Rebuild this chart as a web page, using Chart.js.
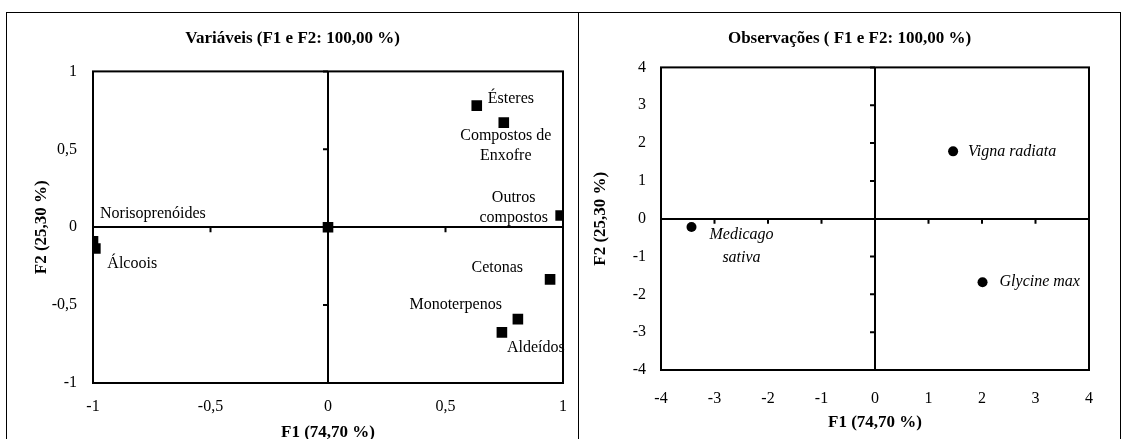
<!DOCTYPE html>
<html>
<head>
<meta charset="utf-8">
<script src="https://cdn.jsdelivr.net/npm/chart.js@4.4.1/dist/chart.umd.min.js"></script>
<style>
  html, body { margin: 0; padding: 0; background: #fff; overflow: hidden; }
  body { width: 1123px; height: 439px; position: relative; }
  .cell { position: absolute; top: 12px; height: 460px; border-top: 1px solid #000; box-sizing: border-box; }
  #cellLeft { left: 6px; width: 573px; border-left: 1px solid #000; border-right: 1px solid #000; }
  #cellRight { left: 578px; width: 543px; border-right: 1px solid #000; }
  canvas { position: absolute; }
  #varChart { left: 7px; top: 13px; }
  #obsChart { left: 579px; top: 13px; }
</style>
</head>
<body>
<div class="cell" id="cellLeft"></div>
<div class="cell" id="cellRight"></div>
<canvas id="varChart" width="571" height="440"></canvas>
<canvas id="obsChart" width="541" height="440"></canvas>
<script>
// Variáveis (loadings F1/F2)
const varNames = ["Ésteres", "Compostos de\nEnxofre", "Outros\ncompostos", "Norisoprenóides", "Álcoois", "", "Cetonas", "Monoterpenos", "Aldeídos"];
const varF1 = [0.633, 0.748, 0.99, -1.0, -0.99, 0, 0.945, 0.808, 0.74];
const varF2 = [0.78, 0.671, 0.075, -0.09, -0.137, 0, -0.335, -0.59, -0.675];
const varTicks = [-1, -0.5, 0, 0.5, 1];

// Observações (scores F1/F2)
const obsNames = ["Medicago\nsativa", "Vigna radiata", "Glycine max"];
const obsF1 = [-3.43, 1.46, 2.01];
const obsF2 = [-0.22, 1.78, -1.68];
const obsTicks = [-4, -3, -2, -1, 0, 1, 2, 3, 4];

// where each label sits relative to its point
const varLabelPos = [
  { dx: 11, dy: -7, align: "left" },
  { dx: 2, dy: 13, align: "center" },
  { dx: -47, dy: -18, align: "center" },
  { dx: 7, dy: -27, align: "left" },
  { dx: 12, dy: 15, align: "left" },
  null,
  { dx: -27, dy: -12, align: "right" },
  { dx: -16, dy: -14, align: "right" },
  { dx: 5, dy: 15, align: "left" }
];
const obsLabelPos = [
  { dx: 50, dy: 8, align: "center" },
  { dx: 15, dy: 0, align: "left" },
  { dx: 17, dy: 0, align: "left" }
];

Chart.defaults.font.family = "'Liberation Serif', 'Times New Roman', serif";
Chart.defaults.color = "#000";

const commaLabel = (v) => String(v).replace(".", ",");

const frameAxes = {
  id: "frameAxes",
  beforeDatasetsDraw(chart) {
    const { ctx, chartArea: a, scales: { x, y } } = chart;
    const x0 = x.getPixelForValue(0);
    const y0 = y.getPixelForValue(0);
    ctx.save();
    ctx.strokeStyle = "#000";
    ctx.lineWidth = 2;
    ctx.strokeRect(a.left, a.top, a.right - a.left, a.bottom - a.top);
    ctx.beginPath();
    x.ticks.forEach((t) => {
      if (t.value === 0) return;
      const px = x.getPixelForValue(t.value);
      ctx.moveTo(px, y0);
      ctx.lineTo(px, y0 + 5);
    });
    y.ticks.forEach((t) => {
      if (t.value === 0) return;
      const py = y.getPixelForValue(t.value);
      ctx.moveTo(x0, py);
      ctx.lineTo(x0 - 5, py);
    });
    ctx.stroke();
    ctx.restore();
  }
};

const pointLabels = {
  id: "pointLabels",
  afterDatasetsDraw(chart, args, opts) {
    const { ctx } = chart;
    const meta = chart.getDatasetMeta(0);
    ctx.save();
    ctx.fillStyle = "#000";
    ctx.font = opts.font;
    ctx.textBaseline = "middle";
    meta.data.forEach((pt, i) => {
      const p = opts.pos[i];
      const name = opts.names[i];
      if (!p || !name) return;
      ctx.textAlign = p.align;
      name.split("\n").forEach((line, k) => {
        ctx.fillText(line, pt.x + p.dx, pt.y + p.dy + k * opts.gap);
      });
    });
    ctx.restore();
  }
};

function makeOptions(cfg) {
  const zeroGrid = {
    display: true,
    drawTicks: false,
    color: (c) => (c.tick && c.tick.value === 0 ? "#000" : "rgba(0,0,0,0)"),
    lineWidth: 2
  };
  return {
    responsive: false,
    animation: false,
    devicePixelRatio: 1,
    layout: { padding: 0 },
    plugins: {
      legend: { display: false },
      tooltip: { enabled: false },
      title: {
        display: true,
        text: cfg.title,
        font: { size: 17, weight: "bold" },
        padding: { top: cfg.titleTop, bottom: cfg.titleBottom }
      },
      pointLabels: { names: cfg.names, pos: cfg.pos, font: cfg.labelFont, gap: cfg.gap }
    },
    scales: {
      x: {
        type: "linear",
        min: cfg.ticks[0],
        max: cfg.ticks[cfg.ticks.length - 1],
        afterBuildTicks: (s) => { s.ticks = cfg.ticks.map((v) => ({ value: v })); },
        afterFit: (s) => { s.height = cfg.xHeight; s.paddingLeft = 0; s.paddingRight = 0; },
        grid: zeroGrid,
        border: { display: false },
        ticks: { font: { size: 16 }, padding: cfg.xTickPad, maxRotation: 0, callback: commaLabel },
        title: { display: true, text: "F1 (74,70 %)", font: { size: 17, weight: "bold" }, padding: { top: 0, bottom: cfg.xTitlePad } }
      },
      y: {
        type: "linear",
        min: cfg.ticks[0],
        max: cfg.ticks[cfg.ticks.length - 1],
        afterBuildTicks: (s) => { s.ticks = cfg.ticks.map((v) => ({ value: v })); },
        afterFit: (s) => { s.width = cfg.yWidth; },
        grid: zeroGrid,
        border: { display: false },
        ticks: { font: { size: 16 }, padding: cfg.yTickPad, callback: commaLabel },
        title: { display: true, text: "F2 (25,30 %)", font: { size: 17, weight: "bold" }, padding: { top: cfg.yTitlePad, bottom: 0 } }
      },
      // empty right-hand margin so the title stays centred over the whole cell
      yRight: {
        type: "linear",
        position: "right",
        afterFit: (s) => { s.width = cfg.padRight; },
        grid: { display: false },
        border: { display: false },
        ticks: { display: false }
      }
    }
  };
}

new Chart(document.getElementById("varChart").getContext("2d"), {
  type: "scatter",
  data: {
    datasets: [{
      data: varF1.map((v, i) => ({ x: v, y: varF2[i] })),
      pointStyle: "rect",
      pointRadius: 7.5,
      backgroundColor: "#000",
      borderColor: "#000",
      borderWidth: 0
    }]
  },
  options: makeOptions({
    title: "Variáveis (F1 e F2: 100,00 %)",
    ticks: varTicks,
    names: varNames,
    pos: varLabelPos,
    labelFont: "16px 'Liberation Serif', serif",
    gap: 20,
    padRight: 15,
    titleTop: 15,
    titleBottom: 23,
    xHeight: 70,
    xTickPad: 14,
    xTitlePad: 10,
    yWidth: 86,
    yTickPad: 16,
    yTitlePad: 24
  }),
  plugins: [frameAxes, pointLabels]
});

new Chart(document.getElementById("obsChart").getContext("2d"), {
  type: "scatter",
  data: {
    datasets: [{
      data: obsF1.map((v, i) => ({ x: v, y: obsF2[i] })),
      pointStyle: "circle",
      pointRadius: 5,
      backgroundColor: "#000",
      borderColor: "#000",
      borderWidth: 0
    }]
  },
  options: makeOptions({
    title: "Observações ( F1 e F2: 100,00 %)",
    ticks: obsTicks,
    names: obsNames,
    pos: obsLabelPos,
    labelFont: "italic 16px 'Liberation Serif', serif",
    gap: 23,
    padRight: 31,
    titleTop: 15,
    titleBottom: 19,
    xHeight: 83,
    xTickPad: 19,
    xTitlePad: 20,
    yWidth: 82,
    yTickPad: 15,
    yTitlePad: 11
  }),
  plugins: [frameAxes, pointLabels]
});
</script>
</body>
</html>
